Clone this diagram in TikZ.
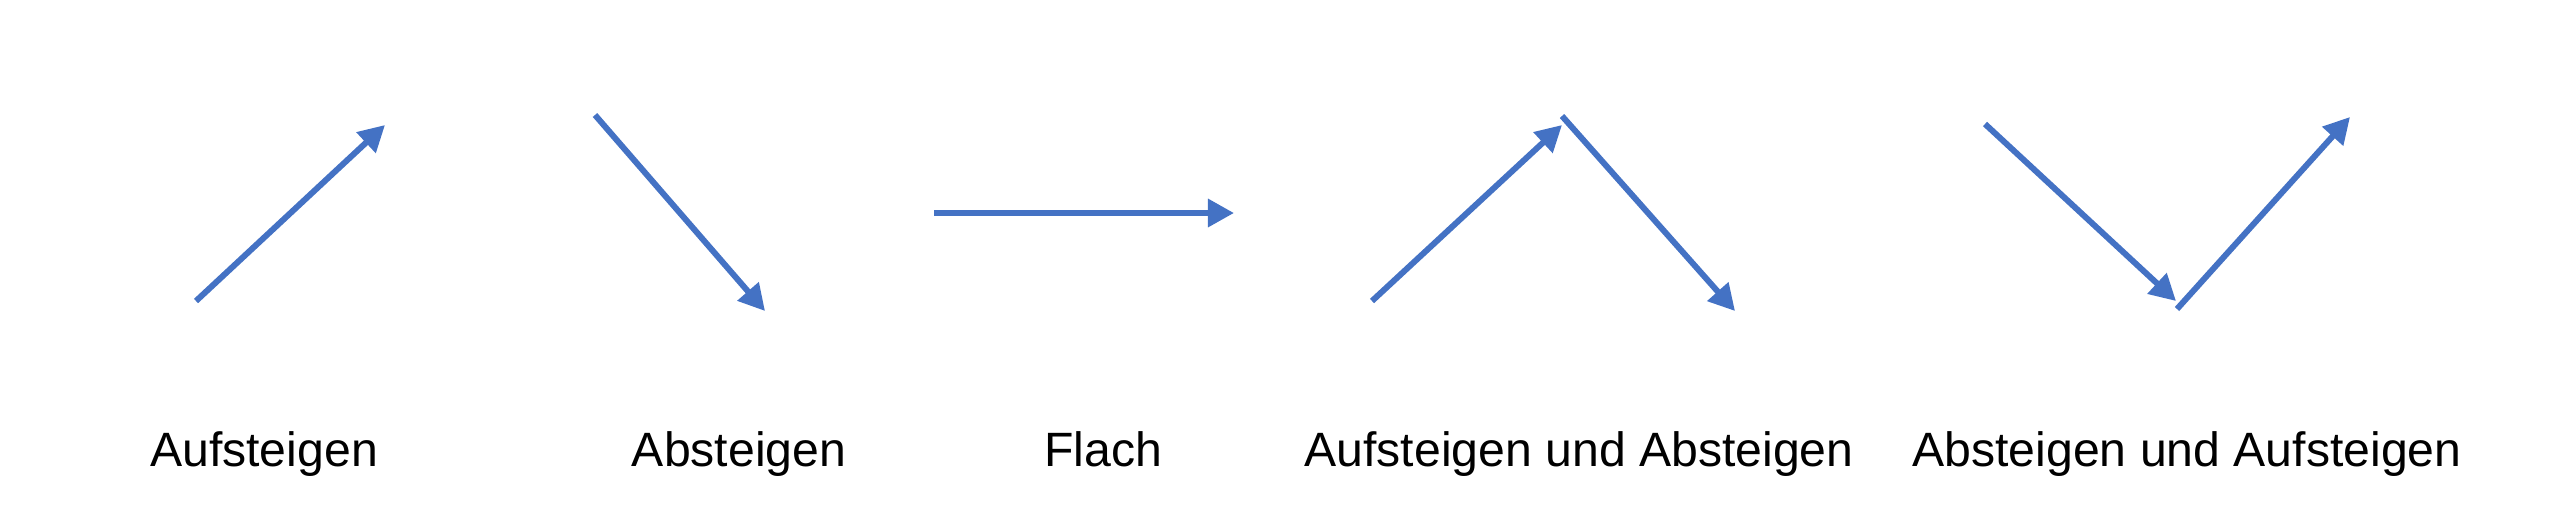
\documentclass[tikz,border=0pt]{standalone}
\usepackage{fontspec}
\setmainfont{Liberation Sans}
\usetikzlibrary{arrows.meta}
\definecolor{trendblue}{HTML}{4472C4}
\tikzset{
  trend/.style={draw=trendblue,line width=1.7pt,-{Triangle[length=7.4pt,width=7.7pt]}},
  caption/.style={anchor=base,inner sep=0pt,font=\fontsize{13.7}{16}\selectfont}
}
\begin{document}
\begin{tikzpicture}[x=0.01cm,y=-0.01cm]
    \useasboundingbox (0,0) rectangle (2551,527);%
    \coordinate (U0) at (196,301);%
    \coordinate (U1) at (385,125);%
    \coordinate (D0) at (595,115);%
    \coordinate (D1) at (765,311);%
    \coordinate (F0) at (934,213);%
    \coordinate (F1) at (1234,213);%
    \coordinate (UD0) at (1372,301);%
    \coordinate (UD1) at (1562,125);%
    \coordinate (UD2) at (1562,116);%
    \coordinate (UD3) at (1735,311);%
    \coordinate (DU0) at (1985,124);%
    \coordinate (DU1) at (2176,301);%
    \coordinate (DU2) at (2177,309);%
    \coordinate (DU3) at (2350,117);%

    \node[caption] (LU) at (264,466) {Aufsteigen};%
    \node[caption] (LD) at (739,466) {Absteigen};%
    \node[caption] (LF) at (1103,466) {Flach};%
    \node[caption] (LUD) at (1579,466) {Aufsteigen und Absteigen};%
    \node[caption] (LDU) at (2187,466) {Absteigen und Aufsteigen};%

    \draw[trend] (U0) to (U1);%
    \draw[trend] (D0) to (D1);%
    \draw[trend] (F0) to (F1);%
    \draw[trend] (UD0) to (UD1);%
    \draw[trend] (UD2) to (UD3);%
    \draw[trend] (DU0) to (DU1);%
    \draw[trend] (DU2) to (DU3);%
  \end{tikzpicture}
\end{document}
